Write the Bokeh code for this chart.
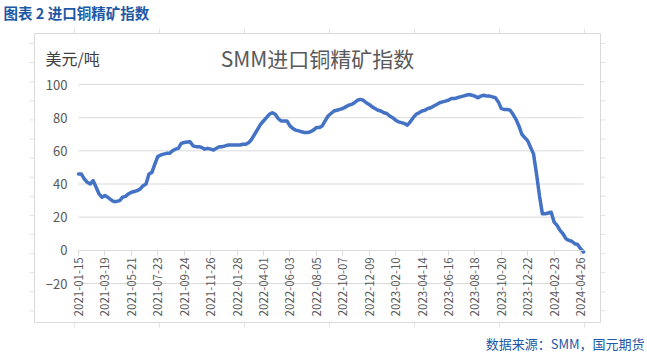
import math
from bokeh.plotting import figure
from bokeh.models import (ColumnDataSource, Range1d, LinearAxis, FixedTicker, Label)
from bokeh.embed import file_html
from bokeh.resources import INLINE

# ---- data (weekly, starting 2021-01-15) ----
index_values = [
    46, 46, 43, 41, 40, 42, 38, 34, 32, 33,
    32, 30.5, 29.5, 29.5, 30, 32, 32.5, 34, 35, 35.5,
    36, 37, 39, 40, 46, 47, 52, 56.5, 57.5, 58,
    58.5, 58.5, 60, 61, 61.5, 64.5, 65, 65.3, 65.5, 63,
    62.5, 62.5, 62, 61, 61.5, 61, 60.5, 61.5, 62.5, 62.5,
    63, 63.5, 63.5, 63.5, 63.5, 63.5, 64, 64, 65, 67,
    70, 73, 76, 78, 80, 82, 83, 82, 79.5, 78,
    78, 78, 75, 73.5, 72.5, 72, 71.5, 71, 71, 71.5,
    72.5, 74, 74, 75, 78, 81, 82.5, 84, 84.5, 85,
    85.5, 86.5, 87.5, 88, 89, 90.5, 91, 90.5, 89, 88,
    86.5, 85.5, 84.5, 84, 83, 82.5, 81, 80, 78.5, 77.5,
    77, 76.5, 75.5, 77.5, 80, 82, 83, 84, 84.5, 85.5,
    86, 87, 88, 89, 89.5, 90, 90.5, 91.5, 91.5, 92,
    92.5, 93, 93.5, 94, 93.5, 93, 92, 93, 93.5, 93,
    93, 92.5, 92, 89.5, 85.5, 85, 85, 84.5, 82, 79,
    75, 70, 68, 66, 62, 58, 46, 33, 22, 22,
    22.5, 23, 17, 15, 12, 10, 7, 6, 5.5, 4,
    3.5, 1, -1,
]
week_index = list(range(len(index_values)))

tick_positions = [0, 9, 18, 27, 36, 45, 54, 63, 72, 81, 90, 99, 108, 117,
                  126, 135, 144, 153, 162, 171]
tick_labels = ["2021-01-15", "2021-03-19", "2021-05-21", "2021-07-23",
               "2021-09-24", "2021-11-26", "2022-01-28", "2022-04-01",
               "2022-06-03", "2022-08-05", "2022-10-07", "2022-12-09",
               "2023-02-10", "2023-04-14", "2023-06-16", "2023-08-18",
               "2023-10-20", "2023-12-22", "2024-02-23", "2024-04-26"]
y_ticks = [-20, 0, 20, 40, 60, 80, 100]
y_grid_values = [-20, 20, 40, 60, 80, 100]

page_title = "图表 2 进口铜精矿指数"
chart_title = "SMM进口铜精矿指数"
unit_label = "美元/吨"
source_note = "数据来源：SMM，国元期货"

FONT = "Noto Sans CJK SC"
GRID = "#D9D9D9"
TXT = "#595959"
BLUE_TXT = "#2158A6"

W, H = 647, 355
# plot area in canvas pixels
PL, PR, PT, PB = 78, 583, 84, 283
n = len(index_values) - 1
y_lo, y_hi = -20, 100
kx = (PR - PL) / n
ky = (PB - PT) / (y_hi - y_lo)

# frame = whole canvas; default ranges are canvas pixels (y downward)
p = figure(width=W, height=H, output_backend="svg", toolbar_location=None,
           x_range=Range1d(0, W), y_range=Range1d(H, 0),
           x_axis_location=None, y_axis_location=None,
           min_border=0, min_border_left=0, min_border_right=0,
           min_border_top=0, min_border_bottom=0)
p.outline_line_color = None
p.background_fill_color = "white"
p.border_fill_color = "white"
p.xgrid.visible = False
p.ygrid.visible = False

p.extra_x_ranges = {"wk": Range1d(-PL / kx, n + (W - PR) / kx)}
p.extra_y_ranges = {"val": Range1d(y_lo - (H - PB) / ky, y_hi + PT / ky)}

# faint worksheet cell lines peeking around the chart box
col_x = [74, 159, 244, 329, 414, 499, 584]
row_y = [43 + 19.1 * k for k in range(15)]
p.segment(x0=col_x, x1=col_x, y0=[28] * len(col_x), y1=[33] * len(col_x),
          line_color="#E3E3E3", line_width=1)
p.segment(x0=col_x, x1=col_x, y0=[322] * len(col_x), y1=[327] * len(col_x),
          line_color="#E3E3E3", line_width=1)
p.segment(x0=[29] * len(row_y), x1=[34] * len(row_y), y0=row_y, y1=row_y,
          line_color="#E3E3E3", line_width=1)
p.segment(x0=[600] * len(row_y), x1=[605] * len(row_y), y0=row_y, y1=row_y,
          line_color="#E3E3E3", line_width=1)

# chart border
p.quad(left=[34], right=[600], top=[33], bottom=[322], fill_color="white",
       line_color=GRID, line_width=1)

# horizontal gridlines
p.segment(x0=[0] * len(y_grid_values), x1=[n] * len(y_grid_values),
          y0=y_grid_values, y1=y_grid_values,
          x_range_name="wk", y_range_name="val",
          line_color=GRID, line_width=1)

# y axis (labels only)
ya = LinearAxis(fixed_location=0, x_range_name="wk", y_range_name="val",
                ticker=FixedTicker(ticks=y_ticks),
                axis_line_color=None, major_tick_line_color=None,
                minor_tick_line_color=None, major_tick_out=0, major_tick_in=0,
                major_label_standoff=11, major_label_text_font=FONT,
                major_label_text_font_size="13px", major_label_text_color=TXT)
p.add_layout(ya, "left")

# x axis at value 0
xa = LinearAxis(fixed_location=0, x_range_name="wk", y_range_name="val",
                bounds=(0, n),
                ticker=FixedTicker(ticks=tick_positions),
                major_label_overrides={t: l for t, l in zip(tick_positions, tick_labels)},
                major_label_orientation=math.pi / 2,
                axis_line_color=GRID, axis_line_width=1,
                major_tick_line_color=GRID, major_tick_out=5, major_tick_in=0,
                minor_tick_line_color=None,
                major_label_standoff=2,
                major_label_text_font=FONT,
                major_label_text_font_size="11.5px",
                major_label_text_color=TXT)
p.add_layout(xa, "below")

src = ColumnDataSource(dict(x=week_index, y=index_values))
p.line("x", "y", source=src, x_range_name="wk", y_range_name="val",
       line_color="#4472C4", line_width=3.5, line_join="round", line_cap="round")


def add_label(text, cx, cy, size, color, align="left", style="normal"):
    p.add_layout(Label(x=cx, y=cy, text=text, text_font=FONT, text_font_size=size,
                       text_color=color, text_align=align, text_baseline="middle",
                       text_font_style=style))


add_label(page_title, 3, 12, "14.5px", BLUE_TXT, style="bold")
add_label(unit_label, 45, 57, "16px", "#404040")
add_label(chart_title, 317, 57, "21px", TXT, align="center")
add_label(source_note, 644, 343, "13px", BLUE_TXT, align="right")

open("out.html", "w").write(file_html(p, INLINE))
